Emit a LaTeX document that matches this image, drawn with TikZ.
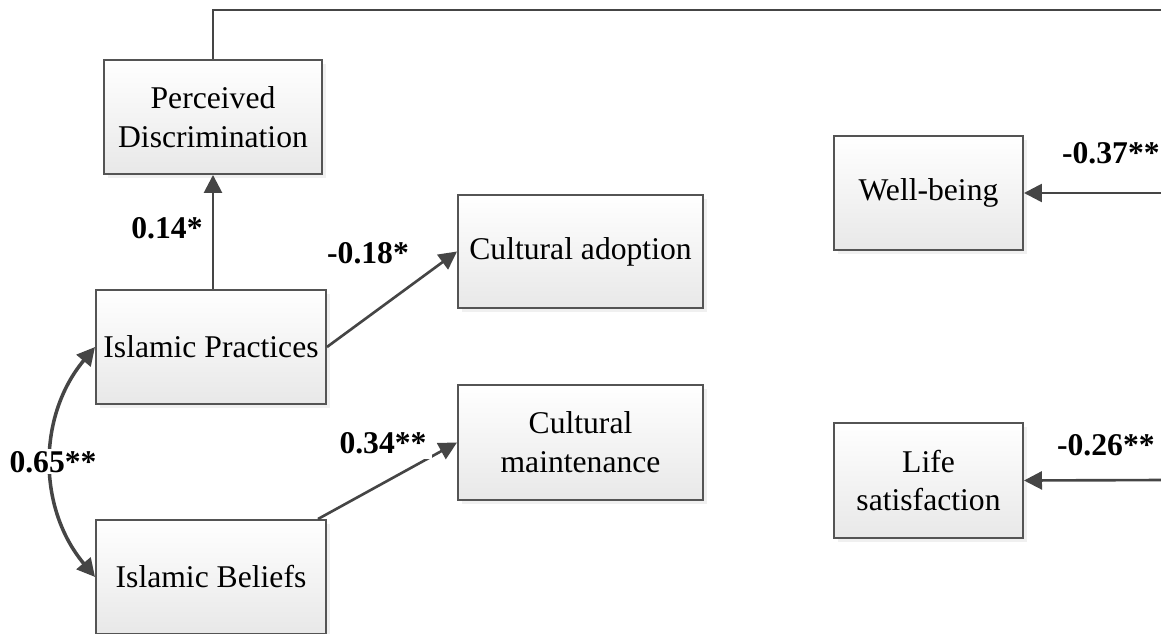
\documentclass[tikz,border=0pt]{standalone}
\usepackage{fontspec}
\setmainfont{Liberation Serif}
\usepackage{tikz}
\usepackage{xcolor}
\usetikzlibrary{arrows.meta, shadows}
\definecolor{linegray}{rgb}{0.27, 0.27, 0.27}
\definecolor{boxgray}{rgb}{0.33, 0.33, 0.33}
\definecolor{fillgray}{rgb}{0.91, 0.91, 0.91}

\begin{document}
\begin{tikzpicture}[scale=1,
  var/.style={draw=boxgray, line width=1.1pt, top color=white, bottom color=fillgray,
    drop shadow={shadow xshift=0.08cm, shadow yshift=-0.08cm, opacity=0.12},
    align=center, inner sep=0pt, font=\fontsize{18}{22}\selectfont},
  path/.style={draw=linegray, line width=1.5pt, -{Triangle[length=3.6mm, width=3.6mm]}},
  coef/.style={fill=white, inner sep=1pt, font=\fontsize{18}{22}\selectfont\bfseries}]
\useasboundingbox (0,0) rectangle (23.22,12.68);
\node[var, minimum width=4.36cm, minimum height=2.28cm] (PD) at (4.26,10.34) {Perceived\\Discrimination};
\node[var, minimum width=4.6cm, minimum height=2.28cm] (IP) at (4.22,5.74) {Islamic Practices};
\node[var, minimum width=4.6cm, minimum height=2.28cm] (IB) at (4.22,1.14) {Islamic Beliefs};
\node[var, minimum width=4.9cm, minimum height=2.26cm] (CA) at (11.61,7.65) {Cultural adoption};
\node[var, minimum width=4.9cm, minimum height=2.3cm] (CM) at (11.61,3.83) {Cultural\\maintenance};
\node[var, minimum width=3.78cm, minimum height=2.28cm] (WB) at (18.57,8.82) {Well-being};
\node[var, minimum width=3.78cm, minimum height=2.3cm] (LS) at (18.57,3.07) {Life\\satisfaction};
\coordinate (topR) at (23.4,12.48);
\coordinate (wbR) at (23.4,8.82);
\coordinate (lsR) at (23.4,3.08);
% paths
\draw[draw=linegray, line width=1.5pt] (PD.north) |- (topR);
\draw[path] (IP.north -| PD.south) -- (PD.south);
\draw[path] (IP.east) -- (CA.west);
\draw[path] ([xshift=-0.18cm]IB.north east) -- (CM.west);
\draw[path] (wbR) -- (WB.east);
\draw[path] (lsR) -- (LS.east);
\draw[path, line width=2pt, {Triangle[length=3.6mm, width=3.6mm]}-{Triangle[length=3.6mm, width=3.6mm]}] (IP.west) to[bend right=40] (IB.west);
% coefficients
\node[coef] (c14) at (3.34,8.12) {0.14*};
\node[coef] (c18) at (7.36,7.62) {-0.18*};
\node[coef, inner sep=3pt] (c34) at (7.66,3.82) {0.34**};
\node[coef] (c65) at (1.06,3.44) {0.65**};
\node[coef, anchor=west] (c37) at (21.2,9.62) {-0.37**};
\node[coef, anchor=west] (c26) at (21.10,3.78) {-0.26**};
\end{tikzpicture}
\end{document}
